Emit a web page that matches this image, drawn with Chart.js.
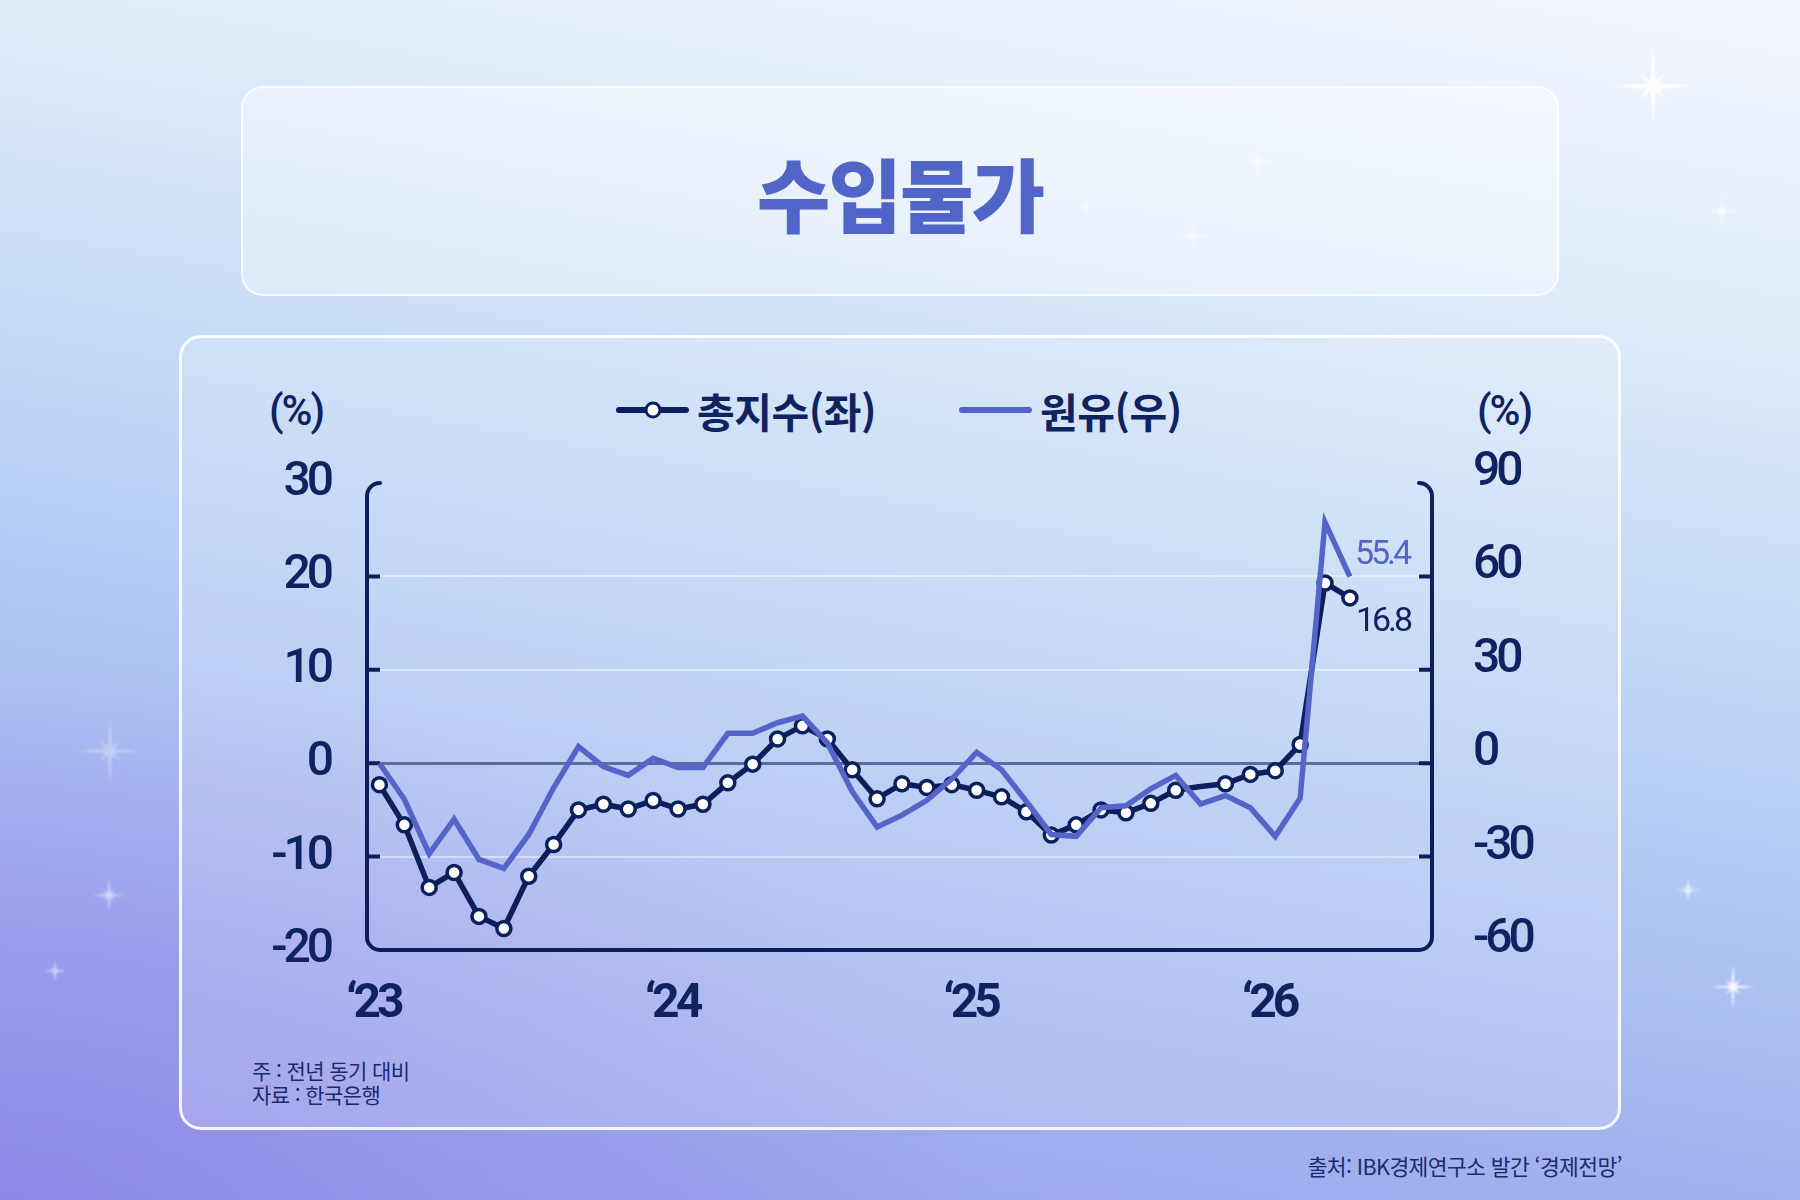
<!DOCTYPE html>
<html lang="ko">
<head>
<meta charset="utf-8">
<title>수입물가</title>
<script src="https://cdn.jsdelivr.net/npm/chart.js@4.4.1/dist/chart.umd.min.js"></script>
<style>
  html, body { margin: 0; padding: 0; }
  body {
    width: 1800px; height: 1200px; position: relative; overflow: hidden;
    font-family: "Noto Sans CJK KR", "Noto Sans", sans-serif;
    color: #0f2361;
    background:
      radial-gradient(ellipse 55% 45% at 0% 100%, rgba(138, 118, 230, 0.55), rgba(138, 118, 230, 0) 100%),
      linear-gradient(190deg, #f3f6fd 0%, #e2edfb 20%, #c6dcf6 40%, #b2caf3 58%, #a2b3ef 78%, #959fec 100%);
  }
  .box { position: absolute; border-radius: 22px; box-sizing: border-box; }
  #titleBox {
    left: 241px; top: 86px; width: 1318px; height: 210px;
    background: rgba(255, 255, 255, 0.38);
    border: 2px solid rgba(255, 255, 255, 0.75);
  }
  #panel {
    left: 179px; top: 335px; width: 1442px; height: 795px;
    background: rgba(255, 255, 255, 0.18);
    border: 3px solid rgba(255, 255, 255, 0.9);
  }
  #stars { position: absolute; left: 0; top: 0; }
  #title {
    position: absolute; left: 900px; top: 191px; transform: translate(-50%, -50%);
    font-size: 80px; font-weight: 900; letter-spacing: -2px; color: #5165c8;
    white-space: nowrap;
  }
  .txt { position: absolute; white-space: nowrap; }
  .unit {
    font-family: Roboto, sans-serif;
    font-size: 42px; font-weight: 500; top: 410px; transform: translate(-50%, -50%);
    letter-spacing: -2px;
  }
  .legend {
    position: absolute; top: 410px; transform: translateY(-50%);
    display: flex; align-items: center; font-size: 41px; font-weight: 700;
    letter-spacing: -0.5px;
  }
  .legend .mark { position: relative; width: 73px; height: 6px; border-radius: 3px; margin-right: 8px; }
  .legend .dot {
    position: absolute; left: 50%; top: 50%; width: 11px; height: 11px;
    transform: translate(-50%, -50%); border-radius: 50%;
    background: #fff; border: 3.5px solid #0a1f5c;
  }
  .note { font-size: 21px; left: 252px; transform: translateY(-50%); letter-spacing: -0.6px; color: #1a2b6b; }
  #source {
    font-size: 21.5px; right: 178px; top: 1165px; transform: translateY(-50%);
    letter-spacing: -0.6px; color: #1a2b6b;
  }
  #wrap { position: absolute; left: 0; top: 0; width: 1800px; height: 1200px; }
</style>
</head>
<body>
<svg id="stars" width="1800" height="1200"></svg>
<div class="box" id="titleBox"></div>
<div class="box" id="panel"></div>
<div id="title">수입물가</div>

<div class="txt unit" style="left:296px">(%)</div>
<div class="txt unit" style="left:1504px">(%)</div>

<div class="legend" style="left:616px">
  <div class="mark" style="background:#0a1f5c"><div class="dot"></div></div>
  <span>총지수(좌)</span>
</div>
<div class="legend" style="left:959px">
  <div class="mark" style="background:#5564c8"></div>
  <span>원유(우)</span>
</div>

<div class="txt note" style="top:1070px">주 : 전년 동기 대비</div>
<div class="txt note" style="top:1094px">자료 : 한국은행</div>
<div class="txt" id="source">출처: IBK경제연구소 발간 ‘경제전망’</div>

<div id="wrap"><canvas id="chart"></canvas></div>

<script>
// 총지수 (좌축, %) : 2023.01 ~ 2026.04 월별
const indexValues = [
  -2.3, -6.6, -13.3, -11.7, -16.4, -17.7, -12.1, -8.7, -5.0, -4.4, -4.9, -4.0,
  -4.9, -4.4, -2.1, -0.1, 2.6, 4.0, 2.6, -0.7, -3.8, -2.2, -2.6, -2.3,
  -2.9, -3.6, -5.2, -7.7, -6.6, -5.0, -5.3, -4.3, -2.9, -2.5, -2.2, -1.2,
  -0.8, 2.0, 19.3, 17.7
];
// 원유 (우축, %)
const oilValues = [
  0, -11.6, -29.1, -18.0, -30.9, -33.8, -22.9, -7.9, 5.3, -1.1, -3.9, 1.6,
  -1.4, -1.4, 9.6, 9.6, 13.0, 15.1, 6.5, -9.1, -20.5, -16.7, -11.9, -5.1,
  3.5, -2.1, -12.3, -22.9, -23.5, -14.3, -13.7, -8.2, -3.9, -13.1, -10.4, -14.3,
  -23.5, -11.3, 77.4, 59.9
];
const yearTicks = [0, 12, 24, 36];
const yearLabels = ['\u201823', '\u201824', '\u201825', '\u201826'];
const leftTicks = { min: -20, max: 30, step: 10 };
const rightTicks = { min: -60, max: 90, step: 30 };
const endLabels = ['16.8', '55.4'];   // 총지수, 원유 최근값
const noMarker = [33];

const NAVY = '#0a1f5c';
const TEXT = '#0f2361';
const OIL = '#5564c8';
const NUM_FONT = 'Roboto, sans-serif';

// 배경 반짝이
const starList = [
  [1653, 86, 42, 0.95], [1722, 211, 19, 0.7], [1258, 162, 17, 0.55], [1193, 236, 17, 0.55],
  [1086, 207, 9, 0.5], [110, 751, 33, 0.3], [109, 895, 17, 0.55], [55, 971, 11, 0.5],
  [1688, 890, 13, 0.65], [1733, 987, 23, 0.95]
];
const svg = document.getElementById('stars');
let svgHtml = '<defs><filter id="soft"><feGaussianBlur stdDeviation="1.2"/></filter></defs>';
starList.forEach(([x, y, L, op]) => {
  const w = Math.max(1.5, L * 0.07);
  const s = L * 0.45;
  const spike = (dx, dy, len) => {
    const nx = -dy * w, ny = dx * w;
    return `<polygon points="${x + nx},${y + ny} ${x + dx * len},${y + dy * len} ${x - nx},${y - ny} ${x - dx * len},${y - dy * len}" fill="#fff"/>`;
  };
  svgHtml += `<g opacity="${op}" filter="url(#soft)">` +
    spike(1, 0, L) + spike(0, 1, L) + spike(0.707, 0.707, s) + spike(0.707, -0.707, s) +
    `<circle cx="${x}" cy="${y}" r="${w * 1.6}" fill="#fff"/></g>`;
});
svg.innerHTML = svgHtml;

// 숫자 글꼴을 좁게 보이도록 자간 축소
const tightText = {
  id: 'tightText',
  beforeDraw(chart) { chart.ctx.letterSpacing = '-4px'; },
  afterDraw(chart) { chart.ctx.letterSpacing = '0px'; }
};

const framePlugin = {
  id: 'frame',
  beforeDatasetsDraw(chart) {
    const { ctx, chartArea: a, scales } = chart;
    const r = 13;
    ctx.save();
    ctx.strokeStyle = NAVY;
    ctx.lineWidth = 4;
    ctx.lineCap = 'round';
    ctx.beginPath();
    ctx.moveTo(a.left + r, a.top);
    ctx.arcTo(a.left, a.top, a.left, a.top + r, r);
    ctx.lineTo(a.left, a.bottom - r);
    ctx.arcTo(a.left, a.bottom, a.left + r, a.bottom, r);
    ctx.lineTo(a.right - r, a.bottom);
    ctx.arcTo(a.right, a.bottom, a.right, a.bottom - r, r);
    ctx.lineTo(a.right, a.top + r);
    ctx.arcTo(a.right, a.top, a.right - r, a.top, r);
    ctx.stroke();
    // 안쪽 눈금
    ctx.lineCap = 'butt';
    ctx.beginPath();
    scales.y.ticks.forEach(t => {
      if (t.value <= leftTicks.min || t.value >= leftTicks.max) return;
      const py = scales.y.getPixelForValue(t.value);
      ctx.moveTo(a.left, py); ctx.lineTo(a.left + 13, py);
      ctx.moveTo(a.right, py); ctx.lineTo(a.right - 13, py);
    });
    ctx.stroke();
    ctx.restore();
  }
};

const endLabelPlugin = {
  id: 'endLabels',
  afterDatasetsDraw(chart) {
    const { ctx } = chart;
    ctx.save();
    ctx.font = `34px ${NUM_FONT}`;
    ctx.letterSpacing = '-3px';
    ctx.textBaseline = 'middle';
    ctx.textAlign = 'left';
    const idx = chart.getDatasetMeta(1).data;
    const oil = chart.getDatasetMeta(0).data;
    const pi = idx[idx.length - 1];
    const po = oil[oil.length - 1];
    ctx.fillStyle = TEXT;
    ctx.fillText(endLabels[0], pi.x + 6, pi.y + 25);
    ctx.fillStyle = OIL;
    ctx.fillText(endLabels[1], po.x + 5, po.y - 21);
    ctx.restore();
  }
};

new Chart(document.getElementById('chart'), {
  type: 'line',
  data: {
    datasets: [
      {
        label: '원유(우)',
        data: oilValues.map((v, i) => ({ x: i, y: v })),
        yAxisID: 'y2',
        borderColor: OIL,
        borderWidth: 5.5,
        pointRadius: 0,
        tension: 0,
        order: 1,
        clip: false
      },
      {
        label: '총지수(좌)',
        data: indexValues.map((v, i) => ({ x: i, y: v })),
        yAxisID: 'y',
        borderColor: NAVY,
        borderWidth: 5.5,
        borderJoinStyle: 'round',
        pointRadius: c => (noMarker.includes(c.dataIndex) ? 0 : 7),
        pointBackgroundColor: '#fff',
        pointBorderColor: NAVY,
        pointBorderWidth: 3.5,
        tension: 0,
        order: 2,
        clip: false
      }
    ]
  },
  options: {
    responsive: true,
    maintainAspectRatio: false,
    animation: false,
    layout: { padding: { left: 247, right: 248, top: 483, bottom: 150 } },
    plugins: {
      legend: { display: false },
      tooltip: { enabled: false }
    },
    scales: {
      x: {
        type: 'linear',
        min: -0.5,
        max: 42.3,
        afterBuildTicks: s => { s.ticks = yearTicks.map(v => ({ value: v })); },
        afterFit: s => { s.height = 100; },
        grid: { display: false, drawTicks: false },
        border: { display: false },
        ticks: {
          callback: v => yearLabels[yearTicks.indexOf(v)],
          font: { family: NUM_FONT, size: 48, weight: 'bold' },
          color: TEXT,
          padding: 26,
          labelOffset: -6,
          maxRotation: 0
        }
      },
      y: {
        position: 'left',
        min: leftTicks.min,
        max: leftTicks.max,
        afterFit: s => { s.width = 120; },
        grid: {
          drawTicks: false,
          color: c => c.tick.value === 0 ? '#5b6c9f'
            : (c.tick.value === leftTicks.min || c.tick.value === leftTicks.max ? 'rgba(0,0,0,0)' : 'rgba(255,255,255,0.45)'),
          lineWidth: c => (c.tick.value === 0 ? 3 : 2)
        },
        border: { display: false },
        ticks: {
          stepSize: leftTicks.step,
          font: { family: NUM_FONT, size: 48, weight: 500 },
          color: TEXT,
          padding: 37,
          labelOffset: 0
        }
      },
      y2: {
        position: 'right',
        min: rightTicks.min,
        max: rightTicks.max,
        afterFit: s => { s.width = 120; },
        grid: { display: false, drawTicks: false },
        border: { display: false },
        ticks: {
          stepSize: rightTicks.step,
          font: { family: NUM_FONT, size: 48, weight: 500 },
          color: TEXT,
          padding: 41,
          labelOffset: -10
        }
      }
    }
  },
  plugins: [tightText, framePlugin, endLabelPlugin]
});
</script>
</body>
</html>
